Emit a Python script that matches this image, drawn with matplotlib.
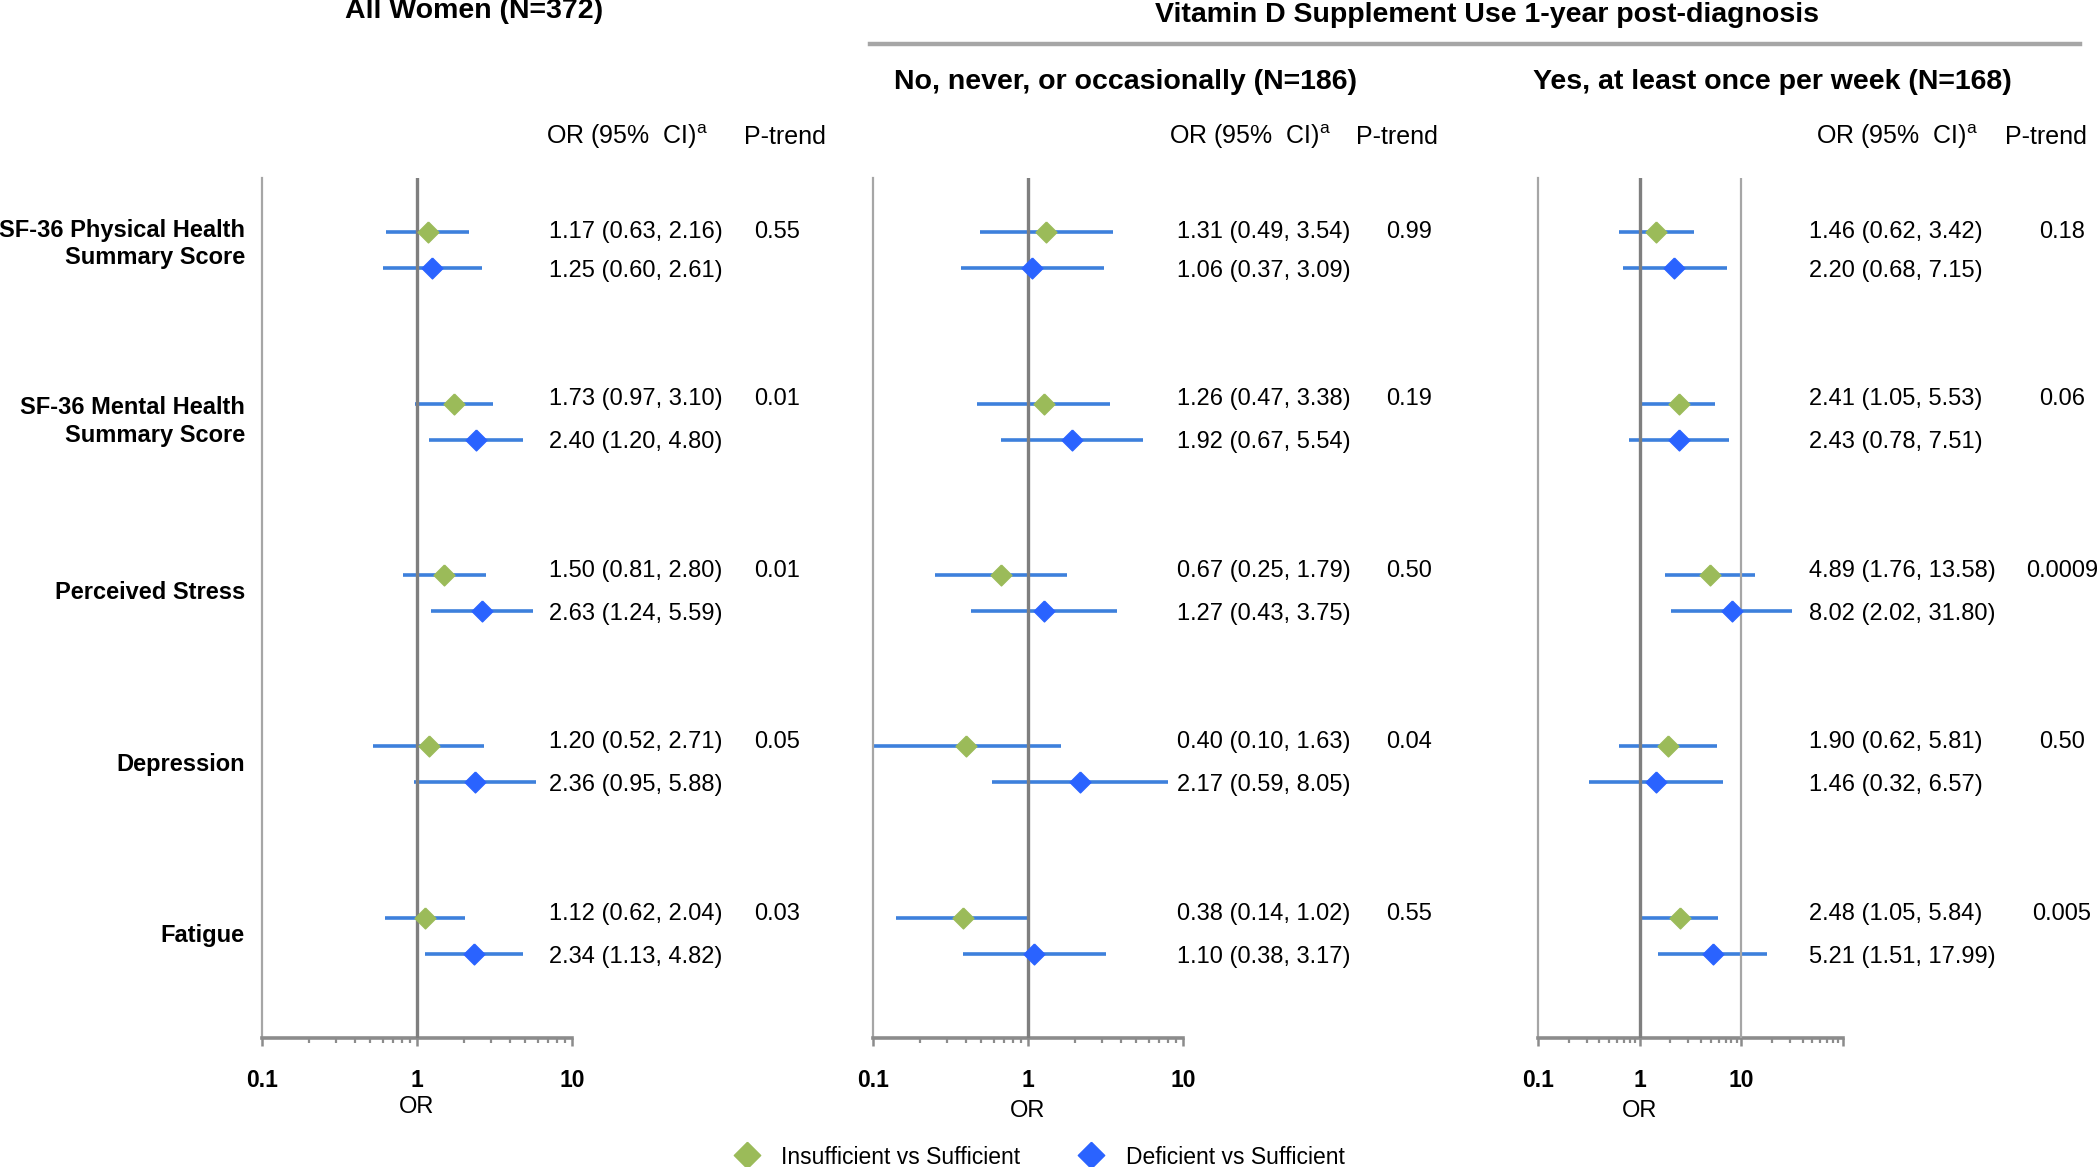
import matplotlib
matplotlib.use("Agg")
import matplotlib.pyplot as plt
import matplotlib.transforms as mtransforms
from matplotlib.lines import Line2D
from matplotlib.ticker import FixedLocator, LogLocator, NullFormatter

plt.rcParams['font.family'] = ['Liberation Sans', 'DejaVu Sans']
plt.rcParams['mathtext.fontset'] = 'custom'
plt.rcParams['mathtext.rm'] = 'Liberation Sans'

# outcomes (rows)
outcomes = ["SF-36 Physical Health\nSummary Score", "SF-36 Mental Health\nSummary Score",
            "Perceived Stress", "Depression", "Fatigue"]

# All women (N=372)
all_ins_or = [1.17, 1.73, 1.50, 1.20, 1.12]
all_ins_lo = [0.63, 0.97, 0.81, 0.52, 0.62]
all_ins_hi = [2.16, 3.10, 2.80, 2.71, 2.04]
all_def_or = [1.25, 2.40, 2.63, 2.36, 2.34]
all_def_lo = [0.60, 1.20, 1.24, 0.95, 1.13]
all_def_hi = [2.61, 4.80, 5.59, 5.88, 4.82]
all_ptrend = ["0.55", "0.01", "0.01", "0.05", "0.03"]

# No supplement use (N=186)
no_ins_or = [1.31, 1.26, 0.67, 0.40, 0.38]
no_ins_lo = [0.49, 0.47, 0.25, 0.10, 0.14]
no_ins_hi = [3.54, 3.38, 1.79, 1.63, 1.02]
no_def_or = [1.06, 1.92, 1.27, 2.17, 1.10]
no_def_lo = [0.37, 0.67, 0.43, 0.59, 0.38]
no_def_hi = [3.09, 5.54, 3.75, 8.05, 3.17]
no_ptrend = ["0.99", "0.19", "0.50", "0.04", "0.55"]

# Supplement use at least once per week (N=168)
yes_ins_or = [1.46, 2.41, 4.89, 1.90, 2.48]
yes_ins_lo = [0.62, 1.05, 1.76, 0.62, 1.05]
yes_ins_hi = [3.42, 5.53, 13.58, 5.81, 5.84]
yes_def_or = [2.20, 2.43, 8.02, 1.46, 5.21]
yes_def_lo = [0.68, 0.78, 2.02, 0.32, 1.51]
yes_def_hi = [7.15, 7.51, 31.80, 6.57, 17.99]
yes_ptrend = ["0.18", "0.06", "0.0009", "0.50", "0.005"]

GREEN = '#9BBB59'
BLUE = '#2A63FF'
BAR = '#3D80DC'
SPINE = '#A6A6A6'
REF = '#7F7F7F'
DIAMOND = [(0, 1), (1, 0), (0, -1), (-1, 0), (0, 1)]

W, H = 2100, 1167
fig = plt.figure(figsize=(W / 100, H / 100), dpi=100)


def fx(px):
    return px / W


def fy(py):
    return 1 - py / H


# panel layout in pixels: axes left/right, OR text x, p-value x, header x's
panels = [
    dict(ins=(all_ins_or, all_ins_lo, all_ins_hi), dfc=(all_def_or, all_def_lo, all_def_hi),
         p=all_ptrend, xlim=(0.1, 10), left=262, right=572, or_x=549, p_x=777,
         hdr_or=546, hdr_p=785, xlab_y=1107),
    dict(ins=(no_ins_or, no_ins_lo, no_ins_hi), dfc=(no_def_or, no_def_lo, no_def_hi),
         p=no_ptrend, xlim=(0.1, 10), left=873, right=1183, or_x=1177, p_x=1409,
         hdr_or=1169, hdr_p=1397, xlab_y=1111),
    dict(ins=(yes_ins_or, yes_ins_lo, yes_ins_hi), dfc=(yes_def_or, yes_def_lo, yes_def_hi),
         p=yes_ptrend, xlim=(0.1, 100), left=1538, right=1843, or_x=1809, p_x=2062,
         hdr_or=1816, hdr_p=2046, xlab_y=1111),
]

top, bottom = 178, 1038
offset = 0.21
rows = list(range(len(outcomes)))
# small vertical nudge of the green-row text (first row sits level with its marker)
text_nudge = [0.0, -0.025, -0.025, -0.025, -0.025]

for k, pan in enumerate(panels):
    ax = fig.add_axes([fx(pan['left']), fy(bottom), fx(pan['right'] - pan['left']),
                       (bottom - top) / H])
    ax.set_xscale('log')
    ax.set_xlim(*pan['xlim'])
    ax.set_ylim(4.70, -0.315)

    y_ins = [r for r in rows]
    y_def = [r + offset for r in rows]

    ax.hlines(y_ins, pan['ins'][1], pan['ins'][2], color=BAR, lw=2.6, zorder=2)
    ax.hlines(y_def, pan['dfc'][1], pan['dfc'][2], color=BAR, lw=2.6, zorder=2)
    ax.axvline(1, color=REF, lw=2.4, zorder=3)
    if pan['xlim'][1] > 10:
        ax.axvline(10, color=SPINE, lw=1.6, zorder=3)
    ax.plot(pan['ins'][0], y_ins, ls='none', marker=DIAMOND, ms=15, color=GREEN, zorder=4)
    ax.plot(pan['dfc'][0], y_def, ls='none', marker=DIAMOND, ms=15, color=BLUE, zorder=4)

    for side in ['top', 'right']:
        ax.spines[side].set_visible(False)
    ax.spines['left'].set_color(SPINE)
    ax.spines['left'].set_linewidth(1.6)
    ax.spines['bottom'].set_color('#8C8C8C')
    ax.spines['bottom'].set_linewidth(2.6)
    ax.set_yticks([])

    ax.xaxis.set_major_locator(FixedLocator([0.1, 1, 10, 100]))
    ax.set_xticklabels(['0.1', '1', '10', ''], fontweight='bold')
    ax.xaxis.set_minor_locator(LogLocator(base=10, subs=range(2, 10)))
    ax.xaxis.set_minor_formatter(NullFormatter())
    ax.tick_params(axis='x', which='major', length=6, width=1.8, color='#8C8C8C',
                   pad=16, labelsize=16.5)
    ax.tick_params(axis='x', which='minor', length=3.5, width=1.6, color='#8C8C8C')
    ax.set_xlabel('OR', fontsize=17)
    ax.xaxis.set_label_coords(0.5 if pan['xlim'][1] == 10 else 1 / 3,
                              (bottom - pan['xlab_y']) / (bottom - top))
    ax.xaxis.label.set_va('center')

    trans = mtransforms.blended_transform_factory(fig.transFigure, ax.transData)
    for i in rows:
        o, lo, hi = pan['ins'][0][i], pan['ins'][1][i], pan['ins'][2][i]
        ax.text(fx(pan['or_x']), y_ins[i] + text_nudge[i], f"{o:.2f} ({lo:.2f}, {hi:.2f})",
                transform=trans, ha='left', va='center', fontsize=17)
        o, lo, hi = pan['dfc'][0][i], pan['dfc'][1][i], pan['dfc'][2][i]
        ax.text(fx(pan['or_x']), y_def[i] + 0.015, f"{o:.2f} ({lo:.2f}, {hi:.2f})",
                transform=trans, ha='left', va='center', fontsize=17)
        ax.text(fx(pan['p_x']), y_ins[i] + text_nudge[i], pan['p'][i],
                transform=trans, ha='center', va='center', fontsize=17)
        if k == 0:
            ax.text(fx(245), rows[i] + offset / 2 - (0.035 if i == 0 else 0), outcomes[i],
                    transform=trans, ha='right', va='center', fontsize=17,
                    fontweight='bold', linespacing=1.25)

    fig.text(fx(pan['hdr_or']), fy(137), 'OR (95%  CI)$^{\\mathrm{a}}$', ha='left',
             va='center', fontsize=18)
    fig.text(fx(pan['hdr_p']), fy(137), 'P-trend', ha='center', va='center', fontsize=18)

# titles
fig.text(fx(474), fy(11), 'All Women (N=372)', ha='center', va='center',
         fontsize=20.5, fontweight='bold')
fig.text(fx(1487), fy(15), 'Vitamin D Supplement Use 1-year post-diagnosis', ha='center',
         va='center', fontsize=20.5, fontweight='bold')
fig.add_artist(Line2D([fx(870), fx(2080)], [fy(44), fy(44)], color=SPINE, lw=3.2))
fig.text(fx(1125), fy(82), 'No, never, or occasionally (N=186)', ha='center', va='center',
         fontsize=20.5, fontweight='bold')
fig.text(fx(1772), fy(82), 'Yes, at least once per week (N=168)', ha='center', va='center',
         fontsize=20.5, fontweight='bold')

# legend
handles = [Line2D([], [], ls='none', marker=DIAMOND, ms=19, color=GREEN),
           Line2D([], [], ls='none', marker=DIAMOND, ms=19, color=BLUE)]
fig.legend(handles, ['Insufficient vs Sufficient', 'Deficient vs Sufficient'],
           loc='center', bbox_to_anchor=(fx(1040), fy(1157)), ncol=2, frameon=False,
           fontsize=16.5, handlelength=1.0, handletextpad=1.0, columnspacing=2.6)

fig.savefig('out.png', dpi=100)
